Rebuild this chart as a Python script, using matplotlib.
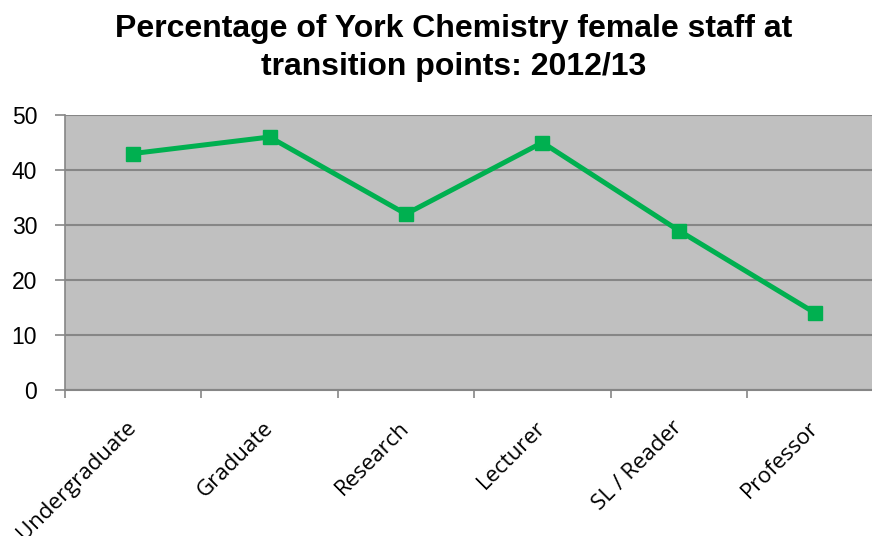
import matplotlib.pyplot as plt

categories = ["Undergraduate", "Graduate", "Research", "Lecturer", "SL / Reader", "Professor"]
female_pct = [43, 46, 32, 45, 29, 14]
y_ticks = [0, 10, 20, 30, 40, 50]

fig = plt.figure(figsize=(8.72, 5.36), dpi=100)
# plot area runs off the right edge like in the original
ax = fig.add_axes([0.0745, 0.2724, 0.9385, 0.513])
ax.set_facecolor("#C0C0C0")

x = list(range(len(categories)))
ax.plot(x, female_pct, color="#00B050", linewidth=3.6, marker="s",
        markersize=10, zorder=3)

ax.set_xlim(-0.5, len(categories) - 0.5)
ax.set_ylim(0, 50)
ax.set_yticks(y_ticks)
ax.yaxis.grid(True, color="#868686", linewidth=1.5)
ax.set_axisbelow(True)

# category ticks sit between categories
ax.set_xticks([i - 0.5 for i in range(len(categories) + 1)])
ax.set_xticklabels([])
ax.set_xticks(x, minor=True)
ax.set_xticklabels(categories, minor=True, rotation=45, ha="right",
                   va="center", rotation_mode="anchor", fontsize=16,
                   family="Open Sans")
ax.tick_params(axis="x", which="minor", length=0, pad=25)
ax.tick_params(axis="x", which="major", length=6, color="#868686", width=1.2)
ax.tick_params(axis="y", length=7, color="#868686", width=1.2, pad=13,
               labelsize=16.5)
for lab in ax.get_yticklabels():
    lab.set_family("Liberation Sans")

for s in ["top", "right"]:
    ax.spines[s].set_visible(False)
ax.spines["left"].set_color("#868686")
ax.spines["left"].set_linewidth(1.2)
ax.spines["bottom"].set_color("#868686")
ax.spines["bottom"].set_linewidth(1.5)

fig.text(0.52, 0.91, "Percentage of York Chemistry female staff at\ntransition points: 2012/13",
         ha="center", va="center", fontsize=23, fontweight="bold",
         family="Liberation Sans", linespacing=1.35)

fig.savefig("out.png", dpi=100)
